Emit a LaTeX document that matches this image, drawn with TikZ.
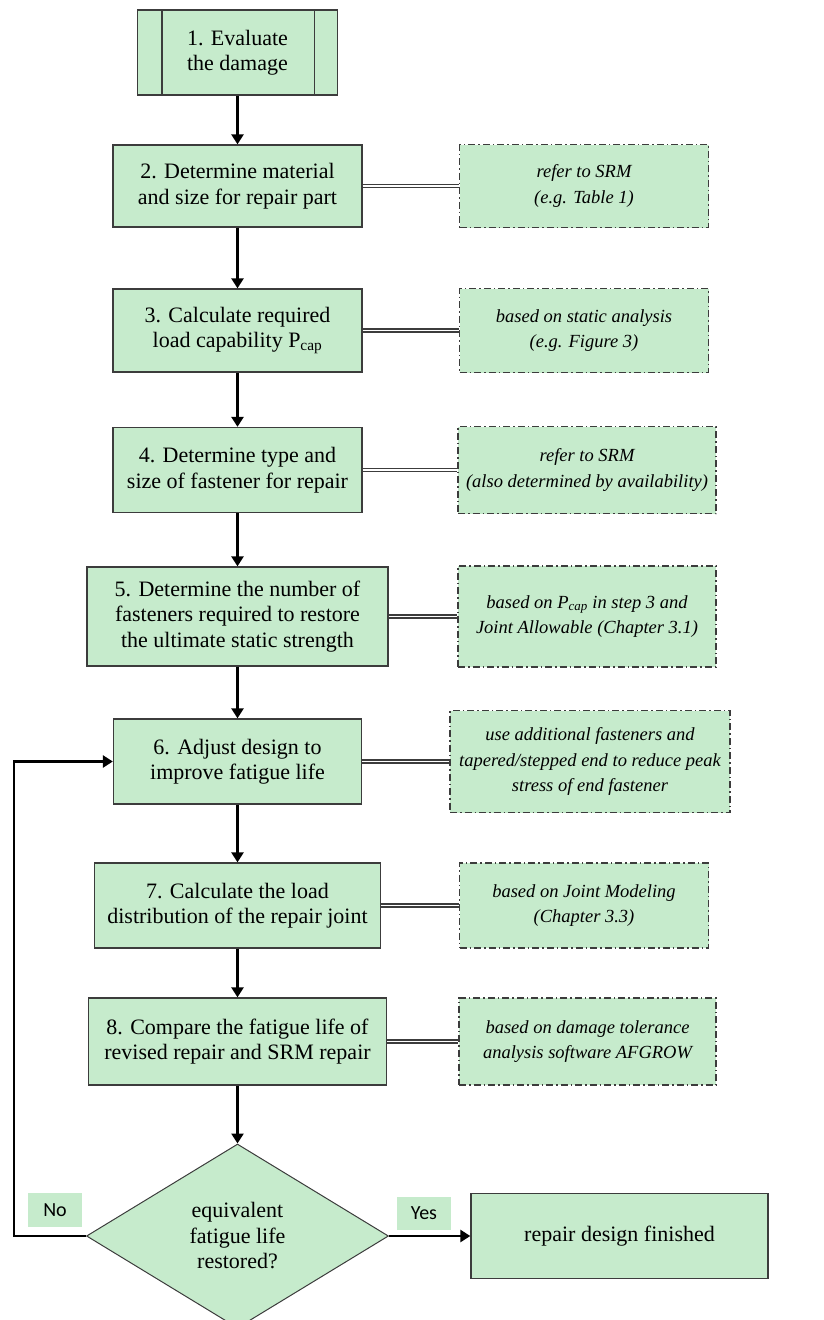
\documentclass[tikz,border=0pt]{standalone}
\usepackage{fontspec}
\setmainfont{Liberation Serif}
\newfontfamily\labelfont{Carlito}
\usetikzlibrary{arrows.meta,shapes.geometric}
\definecolor{boxgreen}{RGB}{198,235,204}
\definecolor{edgegray}{RGB}{60,60,60}
\tikzset{
  procbox/.style={draw=edgegray,line width=1.3pt,fill=boxgreen,align=center,inner sep=2pt,
    font=\fontsize{22}{25.5}\selectfont},
  notebox/.style={procbox,dash pattern=on 7pt off 3pt on 1.5pt off 3pt,
    font=\fontsize{18.5}{25.5}\selectfont\itshape},
  flowarrow/.style={line width=2.8pt,-{Triangle[length=10pt,width=12pt]}},
  refline/.style={draw=edgegray,double=white,double distance=1.8pt,line width=1.3pt},
  yesno/.style={fill=boxgreen,inner sep=0pt,font=\labelfont\fontsize{20}{22}\selectfont}
}
\begin{document}
\begin{tikzpicture}[x=1pt,y=-1pt]
        \useasboundingbox (0,0) rectangle (823,1320);

        % Main column
        \node[procbox,minimum width=200,minimum height=85] (b1) at (237.5,52.5) {1. Evaluate\\the damage};
        \draw[edgegray,line width=1.3pt] ([xshift=25pt]b1.north west) -- ([xshift=25pt]b1.south west);
        \draw[edgegray,line width=1.3pt] ([xshift=-24pt]b1.north east) -- ([xshift=-24pt]b1.south east);
        \node[procbox,minimum width=249,minimum height=82] (b2) at (237.5,186) {2. Determine material\\and size for repair part};
        \node[procbox,minimum width=249,minimum height=83] (b3) at (237.5,330.5) {3. Calculate required\\load capability P\textsubscript{cap}};
        \node[procbox,minimum width=249,minimum height=85] (b4) at (237.5,470) {4. Determine type and\\size of fastener for repair};
        \node[procbox,minimum width=301,minimum height=99] (b5) at (237.5,616.5) {5. Determine the number of\\fasteners required to restore\\the ultimate static strength};
        \node[procbox,minimum width=248,minimum height=85] (b6) at (237.5,761.5) {6. Adjust design to\\improve fatigue life};
        \node[procbox,minimum width=286,minimum height=85] (b7) at (237.5,905.5) {7. Calculate the load\\distribution of the repair joint};
        \node[procbox,minimum width=298,minimum height=87] (b8) at (237.5,1041.5) {8. Compare the fatigue life of\\revised repair and SRM repair};
        \node[procbox,shape=diamond,inner sep=0pt,line width=1pt,minimum width=302,minimum height=184] (dec) at (237.5,1236) {equivalent\\fatigue life\\restored?};
        \node[procbox,minimum width=297,minimum height=85] (fin) at (619.5,1236) {repair design finished};

        % Side notes
        \node[notebox,minimum width=249,minimum height=83] (n2) at (584,186) {refer to SRM\\(e.g. Table 1)};
        \node[notebox,minimum width=249,minimum height=84] (n3) at (584,330.5) {based on static analysis\\(e.g. Figure 3)};
        \node[notebox,minimum width=258,minimum height=87] (n4) at (587,470) {refer to SRM\\(also determined by availability)};
        \node[notebox,minimum width=258,minimum height=101] (n5) at (587,616.5) {based on P\textsubscript{cap} in step 3 and\\Joint Allowable (Chapter 3.1)};
        \node[notebox,minimum width=280,minimum height=102] (n6) at (590,761.5) {use additional fasteners and\\tapered/stepped end to reduce peak\\stress of end fastener};
        \node[notebox,minimum width=249,minimum height=85] (n7) at (584,905.5) {based on Joint Modeling\\(Chapter 3.3)};
        \node[notebox,minimum width=257,minimum height=87] (n8) at (587.5,1041.5) {based on damage tolerance\\analysis software AFGROW};

        % Flow
        \draw[flowarrow] (b1) -- (b2);
        \draw[flowarrow] (b2) -- (b3);
        \draw[flowarrow] (b3) -- (b4);
        \draw[flowarrow] (b4) -- (b5);
        \draw[flowarrow] (b5) -- (b6);
        \draw[flowarrow] (b6) -- (b7);
        \draw[flowarrow] (b7) -- (b8);
        \draw[flowarrow] (b8) -- (dec);
        \draw[flowarrow] (dec) -- (fin);
        \coordinate (noturn) at (14,1236);
        \draw[flowarrow] (dec.west) -- (noturn) |- (b6.west);

        % Links to notes
        \draw[refline] (b2) -- (n2);
        \draw[refline] (b3) -- (n3);
        \draw[refline] (b4) -- (n4);
        \draw[refline] (b5) -- (n5);
        \draw[refline] (b6) -- (n6);
        \draw[refline] (b7) -- (n7);
        \draw[refline] (b8) -- (n8);

        % Labels
        \node[yesno,minimum width=54,minimum height=34] (lblno) at (55,1210) {No};
        \node[yesno,minimum width=54,minimum height=33] (lblyes) at (424,1213.5) {Yes};
    \end{tikzpicture}
\end{document}
